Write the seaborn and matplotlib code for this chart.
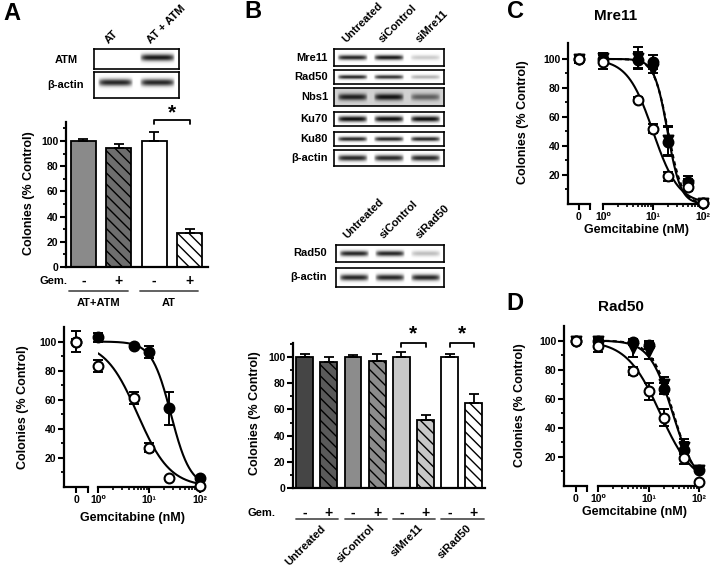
import numpy as np
import pandas as pd
import matplotlib
matplotlib.use("Agg")
import matplotlib.pyplot as plt
import matplotlib.transforms as mtrans
from matplotlib.ticker import FixedLocator, LogLocator, NullFormatter
import seaborn as sns

# ---------------- data ----------------
# Panel A western blot
a_lanes = ["AT", "AT + ATM"]
a_atm_band = [0.0, 0.9]
a_actin_band = [0.85, 0.85]

# Panel A bar chart
a_groups = ["AT+ATM", "AT"]
a_gem = ["-", "+", "-", "+"]
a_bar_means = [100, 94, 100, 27]
a_bar_errs = [1.5, 3.5, 7, 3.5]

# Panel A dose response
a_dose = [0, 1, 5, 10, 25, 100]
a_atm_mean = [100, 103, 97, 93, 54, 6]
a_atm_err = [2, 3, 1.5, 4, 11.5, 1]
a_at_mean = [100, 83, 61, 27, 6, 1]
a_at_err = [7, 4, 4, 3, 1, 1]
a_fit_ic50 = [27, 6]      # AT+ATM, AT
a_fit_hill = [2.3, 1.36]

# Panel B western blots
b_lanes1 = ["Untreated", "siControl", "siMre11"]
b_rows1 = ["Mre11", "Rad50", "Nbs1", "Ku70", "Ku80", "β-actin"]
b_mre11_band = [0.85, 0.9, 0.2]
b_rad50_band = [0.85, 0.8, 0.3]
b_nbs1_band = [0.7, 0.75, 0.45]
b_ku70_band = [0.95, 0.95, 0.95]
b_ku80_band = [0.85, 0.85, 0.85]
b_actin1_band = [0.85, 0.85, 0.85]
b_lanes2 = ["Untreated", "siControl", "siRad50"]
b_rows2 = ["Rad50", "β-actin"]
b_rad50b_band = [0.85, 0.85, 0.25]
b_actin2_band = [0.85, 0.85, 0.85]

# Panel B bar chart
b_groups = ["Untreated", "siControl", "siMre11", "siRad50"]
b_gem = ["-", "+", "-", "+", "-", "+", "-", "+"]
b_bar_means = [100, 96, 100, 97, 100, 52, 100, 65]
b_bar_errs = [2.5, 4, 1.5, 5, 4, 4, 2.5, 7]

# Panel C (Mre11) dose response
c_dose = [0, 1, 5, 10, 20, 50, 100]
c_untr_mean = [100, 100, 99, 98, 43, 15, 1]
c_untr_err = [3, 3, 6, 5, 10, 4, 1]
c_sictrl_mean = [100, 101, 101, 93, 44, 13, 1]
c_sictrl_err = [3, 3, 7, 3, 10, 4, 1]
c_simre11_mean = [100, 98, 72, 52, 19, 12, 1]
c_simre11_err = [3, 5, 2, 3, 3, 3, 1]
c_fit_ic50 = [19.5, 20, 10]   # untreated, siControl, siMre11
c_fit_hill = [3.3, 3.1, 1.7]

# Panel D (Rad50) dose response
d_dose = [0, 1, 5, 10, 20, 50, 100]
d_untr_mean = [100, 100, 99, 97, 67, 25, 11]
d_untr_err = [2, 2, 2, 3, 4, 5, 1]
d_sictrl_mean = [100, 100, 95, 93, 70, 27, 11]
d_sictrl_err = [2, 2, 6, 6, 5, 5, 1]
d_sirad50_mean = [100, 96, 79, 65, 47, 19, 2.5]
d_sirad50_err = [2, 4, 3, 6, 6, 4, 1]
d_fit_ic50 = [30, 31, 17]
d_fit_hill = [1.9, 2.0, 1.3]

log_tick_labels = ["10⁰", "10¹", "10²"]

# ---------------- style ----------------
W, H = 712, 568
sns.set_theme(style="ticks")
plt.rcParams.update({
    "font.family": ["Liberation Sans", "DejaVu Sans"],
    "font.weight": "bold",
    "axes.labelweight": "bold",
    "axes.edgecolor": "black",
    "axes.linewidth": 1.6,
    "xtick.color": "black",
    "ytick.color": "black",
    "text.color": "black",
    "axes.labelcolor": "black",
    "hatch.linewidth": 1.0,
    "hatch.color": "black",
})

fig = plt.figure(figsize=(W / 100, H / 100), dpi=100)


def add_ax(x0, y0, x1, y1):
    return fig.add_axes([x0 / W, 1 - y1 / H, (x1 - x0) / W, (y1 - y0) / H])


def ftext(x, y, s, **kw):
    return fig.text(x / W, 1 - y / H, s, **kw)


def ylabel_px(ax, box, text, xc, yc, size=9):
    x0, y0, x1, y1 = box
    ax.set_ylabel(text, fontsize=size, fontweight="bold")
    ax.yaxis.set_label_coords((xc - x0) / (x1 - x0), (y1 - yc) / (y1 - y0))


def blot(box, intens, thick=0.3, bg=0.0, yoff=0.0):
    ax = add_ax(*box)
    n = len(intens)
    ny, nx = 40, n * 50
    yy = np.linspace(-1, 1, ny)[:, None]
    xx = np.linspace(-0.5, n - 0.5, nx)[None, :]
    lane = np.clip(np.round(xx).astype(int), 0, n - 1)
    dx = xx - lane
    horiz = np.clip(1 - (np.abs(dx) / 0.42) ** 6, 0, 1)
    vert = np.exp(-((yy - yoff) / thick) ** 2)
    dens = bg + np.asarray(intens)[lane] * horiz * vert
    ax.imshow(1 - np.clip(dens, 0, 1), cmap="gray", vmin=0, vmax=1, aspect="auto",
              extent=[-0.5, n - 0.5, -1, 1], origin="lower", interpolation="bilinear")
    ax.set_xticks([])
    ax.set_yticks([])
    for s in ax.spines.values():
        s.set_visible(True)
        s.set_linewidth(1.2)
        s.set_color("black")
    return ax


def lane_headers(box, lanes, y, size=8):
    x0, _, x1, _ = box
    lw = (x1 - x0) / len(lanes)
    for i, lab in enumerate(lanes):
        xc = x0 + lw * (i + 0.5)
        ftext(xc - 5, y, lab, rotation=45, ha="left", va="bottom",
              rotation_mode="anchor", fontsize=size, fontweight="bold")


def bar_panel(box, means, errs, colors, hatches, ymax, xlim):
    ax = add_ax(*box)
    df = pd.DataFrame({"bar": [str(i) for i in range(len(means))], "mean": means})
    sns.barplot(data=df, x="bar", y="mean", hue="bar", palette=colors, legend=False,
                ax=ax, width=0.7, edgecolor="black", linewidth=1.3, errorbar=None,
                saturation=1)
    for cont, h in zip(ax.containers, hatches):
        for p in cont:
            p.set_hatch(h)
    xs = np.arange(len(means))
    ax.errorbar(xs, means, yerr=[np.zeros(len(errs)), errs], fmt="none", ecolor="black",
                elinewidth=1.3, capsize=3.5, capthick=1.3, zorder=1)
    ax.set_ylim(0, ymax)
    ax.set_xlim(*xlim)
    ax.set_yticks([0, 20, 40, 60, 80, 100])
    ax.yaxis.set_minor_locator(FixedLocator([10, 30, 50, 70, 90, 110]))
    ax.tick_params(axis="y", which="major", length=4, width=1.5, labelsize=7.5, pad=1.5)
    ax.tick_params(axis="y", which="minor", length=2.5, width=1.3)
    ax.set_xticks([])
    ax.set_xlabel("")
    for lab in ax.get_yticklabels():
        lab.set_fontweight("bold")
    sns.despine(ax=ax)
    return ax


def bracket(ax, x0, x1, y, drop, star_y):
    ax.plot([x0, x0, x1, x1], [y - drop, y, y, y - drop], color="black", lw=1.3,
            clip_on=False)
    ax.text((x0 + x1) / 2, star_y, "*", ha="center", va="center", fontsize=15,
            fontweight="bold", clip_on=False)


def dose_panel(zero_box, log_box, ymax, xmax):
    ax0 = add_ax(*zero_box)
    ax1 = add_ax(*log_box)
    ax0.set_xlim(-1, 1)
    ax0.set_ylim(0, ymax)
    ax1.set_xscale("log")
    ax1.set_xlim(1, xmax)
    ax1.set_ylim(0, ymax)
    ax0.set_xticks([0, 1])
    ax0.set_xticklabels(["0", ""])
    ax0.set_yticks([20, 40, 60, 80, 100])
    ax0.yaxis.set_minor_locator(FixedLocator([10, 30, 50, 70, 90]))
    ax0.tick_params(axis="y", which="major", length=4, width=1.5, labelsize=7.5, pad=1.5)
    ax0.tick_params(axis="y", which="minor", length=2.5, width=1.3)
    ax0.tick_params(axis="x", length=4, width=1.5, labelsize=7.5, pad=1.5)
    ax1.xaxis.set_major_locator(FixedLocator([1, 10, 100]))
    ax1.set_xticklabels(log_tick_labels)
    ax1.xaxis.set_minor_locator(LogLocator(base=10, subs=np.arange(2, 10)))
    ax1.xaxis.set_minor_formatter(NullFormatter())
    ax1.tick_params(axis="x", which="major", length=4, width=1.5, labelsize=7.5, pad=1.5)
    ax1.tick_params(axis="x", which="minor", length=2.5, width=1.2)
    ax1.tick_params(axis="y", left=False, labelleft=False)
    for lab in (ax0.get_xticklabels() + ax0.get_yticklabels() + ax1.get_xticklabels()):
        lab.set_fontweight("bold")
    sns.despine(ax=ax0)
    sns.despine(ax=ax1, left=True)
    for ax in (ax0, ax1):
        ax.patch.set_alpha(0)
    return ax0, ax1


def dose_series(ax0, ax1, dose, mean, err, marker, filled, z):
    d = np.asarray(dose, dtype=float)
    m = np.asarray(mean, dtype=float)
    e = np.asarray(err, dtype=float)
    zero = d == 0
    for ax, mask in ((ax0, zero), (ax1, ~zero)):
        if not mask.any():
            continue
        ax.errorbar(d[mask], m[mask], yerr=e[mask], fmt="none", ecolor="black",
                    elinewidth=1.4, capsize=3.5, capthick=1.4, zorder=z, clip_on=False)
        sns.scatterplot(x=d[mask], y=m[mask], marker=marker, s=50,
                        color="black" if filled else "white", edgecolor="black",
                        linewidth=1.5, ax=ax, zorder=z + 0.5, clip_on=False, legend=False)


def fit_curve(ax1, ic50, hill, ls):
    xs = np.logspace(0, 2, 200)
    ys = 100 / (1 + (xs / ic50) ** hill)
    sns.lineplot(x=xs, y=ys, ax=ax1, color="black", linewidth=1.5, linestyle=ls,
                 zorder=2, estimator=None)


# ---------------- Panel A ----------------
ftext(12, 13, "A", fontsize=17, fontweight="bold", ha="center", va="center")
box = (94, 49, 179, 69)
blot(box, a_atm_band, thick=0.35, yoff=0.15)
blot((94, 72, 179, 98), a_actin_band, thick=0.28, yoff=0.2)
lane_headers(box, a_lanes, 45)
ftext(66, 60, "ATM", fontsize=8, ha="center", va="center", fontweight="bold")
ftext(66, 85, "β-actin", fontsize=8, ha="center", va="center", fontweight="bold")

abox = (66, 122, 208, 267)
axA = bar_panel(abox, a_bar_means, a_bar_errs,
                ["#8a8a8a", "#6e6e6e", "white", "white"],
                ["", "\\\\\\", "", "\\\\\\"], 115, (-0.49, 3.52))
ylabel_px(axA, abox, "Colonies (% Control)", 35, 193)
bracket(axA, 2, 3, 116.7, 3.5, 122.5)
trA = mtrans.blended_transform_factory(axA.transData, fig.transFigure)
for i, g in enumerate(a_gem):
    axA.text(i, 1 - 281 / H, g, transform=trA, ha="center", va="center",
             fontsize=10, fontweight="bold")
ftext(67, 281, "Gem.", ha="right", va="center", fontsize=8, fontweight="bold")
for gi, g in enumerate(a_groups):
    xs0, xs1 = 2 * gi - 0.41, 2 * gi + 1.25
    axA.plot([xs0, xs1], [1 - 291 / H] * 2, transform=trA, color="#555555", lw=1.3,
             clip_on=False)
    axA.text((xs0 + xs1) / 2, 1 - 303 / H, g, transform=trA, ha="center", va="center",
             fontsize=8, fontweight="bold")

a0, a1 = dose_panel((64, 327, 88, 487), (98, 327, 201, 487), 110, 105)
dose_series(a0, a1, a_dose, a_atm_mean, a_atm_err, "o", True, 3)
dose_series(a0, a1, a_dose, a_at_mean, a_at_err, "o", False, 4)
fit_curve(a1, a_fit_ic50[0], a_fit_hill[0], "-")
fit_curve(a1, a_fit_ic50[1], a_fit_hill[1], "-")
ylabel_px(a0, (64, 327, 88, 487), "Colonies (% Control)", 29, 407)
ftext(133, 518, "Gemcitabine (nM)", ha="center", va="center", fontsize=9, fontweight="bold")

# ---------------- Panel B ----------------
ftext(253, 12, "B", fontsize=17, fontweight="bold", ha="center", va="center")
b_boxes1 = [(334, 49, 444, 66), (334, 70, 444, 84), (334, 88, 444, 106),
            (334, 112, 444, 126), (334, 132, 444, 146), (334, 150, 444, 166)]
b_bands1 = [b_mre11_band, b_rad50_band, b_nbs1_band, b_ku70_band, b_ku80_band, b_actin1_band]
b_thick1 = [0.3, 0.3, 0.38, 0.42, 0.32, 0.38]
b_bg1 = [0.0, 0.0, 0.18, 0.0, 0.0, 0.0]
for bx, bands, th, bg, name in zip(b_boxes1, b_bands1, b_thick1, b_bg1, b_rows1):
    blot(bx, bands, thick=th, bg=bg)
    ftext(328, (bx[1] + bx[3]) / 2, name, ha="right", va="center", fontsize=8,
          fontweight="bold")
lane_headers(b_boxes1[0], b_lanes1, 44)

b_boxes2 = [(336, 245, 444, 262), (336, 268, 444, 287)]
b_bands2 = [b_rad50b_band, b_actin2_band]
for bx, bands, name in zip(b_boxes2, b_bands2, b_rows2):
    blot(bx, bands, thick=0.33)
    ftext(327, (bx[1] + bx[3]) / 2, name, ha="right", va="center", fontsize=8,
          fontweight="bold")
lane_headers(b_boxes2[0], b_lanes2, 240)

bbox = (293, 343, 485, 488)
axB = bar_panel(bbox, b_bar_means, b_bar_errs,
                ["#454545", "#5a5a5a", "#8c8c8c", "#8c8c8c", "#c8c8c8", "#c8c8c8",
                 "white", "white"],
                ["", "\\\\\\", "", "\\\\\\", "", "\\\\\\", "", "\\\\\\"],
                110.7, (-0.48, 7.46))
ylabel_px(axB, bbox, "Colonies (% Control)", 261, 413)
bracket(axB, 4, 5, 110.7, 3.0, 118)
bracket(axB, 6, 7, 110.7, 3.0, 118)
trB = mtrans.blended_transform_factory(axB.transData, fig.transFigure)
for i, g in enumerate(b_gem):
    axB.text(i, 1 - 513 / H, g, transform=trB, ha="center", va="center",
             fontsize=10, fontweight="bold")
ftext(275, 513, "Gem.", ha="right", va="center", fontsize=8, fontweight="bold")
for gi, g in enumerate(b_groups):
    xs0, xs1 = 2 * gi - 0.35, 2 * gi + 1.4
    axB.plot([xs0, xs1], [1 - 519 / H] * 2, transform=trB, color="#555555", lw=1.3,
             clip_on=False)
    axB.text((xs0 + xs1) / 2 + 0.15, 1 - 523 / H, g, transform=trB, ha="right",
             va="top", rotation=45, rotation_mode="anchor", fontsize=8,
             fontweight="bold")

# ---------------- Panel C ----------------
ftext(515, 12, "C", fontsize=17, fontweight="bold", ha="center", va="center")
ftext(616, 16, "Mre11", fontsize=11, fontweight="bold", ha="center", va="center")
c0, c1 = dose_panel((568, 43, 590, 204), (603, 43, 705, 204), 111, 109.6)
dose_series(c0, c1, c_dose, c_sictrl_mean, c_sictrl_err, "v", True, 3)
dose_series(c0, c1, c_dose, c_untr_mean, c_untr_err, "o", True, 3.2)
dose_series(c0, c1, c_dose, c_simre11_mean, c_simre11_err, "o", False, 4)
fit_curve(c1, c_fit_ic50[0], c_fit_hill[0], "-")
fit_curve(c1, c_fit_ic50[1], c_fit_hill[1], (0, (2, 1.5)))
fit_curve(c1, c_fit_ic50[2], c_fit_hill[2], "-")
ylabel_px(c0, (568, 43, 590, 204), "Colonies (% Control)", 529, 122)
ftext(637, 230, "Gemcitabine (nM)", ha="center", va="center", fontsize=9, fontweight="bold")

# ---------------- Panel D ----------------
ftext(515, 303, "D", fontsize=17, fontweight="bold", ha="center", va="center")
ftext(621, 307, "Rad50", fontsize=11, fontweight="bold", ha="center", va="center")
d0, d1 = dose_panel((564, 326, 587, 486), (598, 326, 702, 486), 110, 114)
dose_series(d0, d1, d_dose, d_sictrl_mean, d_sictrl_err, "v", True, 3)
dose_series(d0, d1, d_dose, d_untr_mean, d_untr_err, "o", True, 3.2)
dose_series(d0, d1, d_dose, d_sirad50_mean, d_sirad50_err, "o", False, 4)
fit_curve(d1, d_fit_ic50[0], d_fit_hill[0], "-")
fit_curve(d1, d_fit_ic50[1], d_fit_hill[1], (0, (2, 1.5)))
fit_curve(d1, d_fit_ic50[2], d_fit_hill[2], "-")
ylabel_px(d0, (564, 326, 587, 486), "Colonies (% Control)", 526, 405)
ftext(634, 512, "Gemcitabine (nM)", ha="center", va="center", fontsize=9, fontweight="bold")

fig.savefig("out.png", dpi=100, facecolor="white")
